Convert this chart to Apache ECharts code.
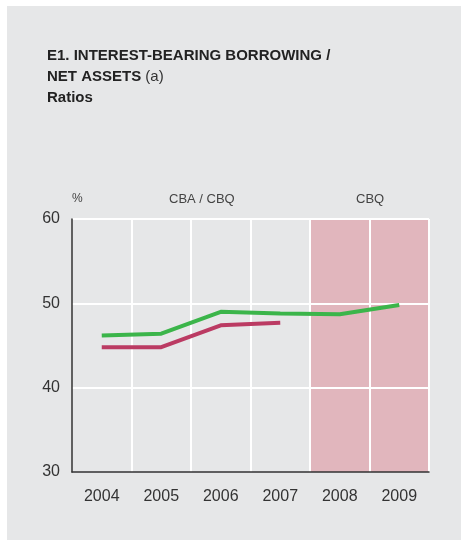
<!DOCTYPE html>
<html>
<head>
<meta charset="utf-8">
<script src="https://cdn.jsdelivr.net/npm/echarts@6/dist/echarts.min.js"></script>
<style>
    html, body { margin: 0; padding: 0; background: #ffffff; }
    #chart { width: 461px; height: 540px; }
</style>
</head>
<body>
<div id="chart"></div>
<script>
    // chart data
    const years = ['2004', '2005', '2006', '2007', '2008', '2009'];
    const cbqSeries = [46.2, 46.4, 49.0, 48.8, 48.7, 49.8];
    const cbaSeries = [44.8, 44.8, 47.4, 47.7, null, null];
    const yTicks = { min: 30, max: 60, step: 10 };
    const shadedBand = [4, 6]; // 2008 - 2009 band, in band units

    let chart = echarts.init(document.getElementById('chart'), null, { renderer: 'canvas' });

    const font = '"Liberation Sans", Arial, Helvetica, sans-serif';

    chart.setOption({
        animation: false,
        textStyle: { fontFamily: font },
        graphic: [
            {
                type: 'rect', z: -10, silent: true,
                shape: { x: 7, y: 6, width: 454, height: 534 },
                style: { fill: '#e6e7e8' }
            },
            {
                type: 'text', left: 72, top: 193,
                style: { text: '%', font: '12px ' + font, fill: '#444' }
            },
            {
                type: 'text', left: 169, top: 193,
                style: { text: 'CBA / CBQ', font: '13px ' + font, fill: '#444' }
            },
            {
                type: 'text', left: 356, top: 193,
                style: { text: 'CBQ', font: '13px ' + font, fill: '#444' }
            }
        ],
        title: {
            left: 47,
            top: 45,
            padding: 0,
            text: '{b|E1. INTEREST-BEARING BORROWING /}\n{b|NET ASSETS }{n|(a)}\n{b|Ratios}',
            textStyle: {
                rich: {
                    b: { fontFamily: font, fontSize: 15, fontWeight: 'bold', color: '#222', lineHeight: 21 },
                    n: { fontFamily: font, fontSize: 15, fontWeight: 'normal', color: '#333', lineHeight: 21 }
                }
            }
        },
        grid: {
            left: 72,
            right: 32,
            top: 219,
            bottom: 68,
            containLabel: false
        },
        xAxis: [
            {
                type: 'category',
                data: years,
                boundaryGap: true,
                z: 3,
                axisLine: { show: true, lineStyle: { color: '#333', width: 1.5 } },
                axisTick: { show: false },
                axisLabel: { color: '#333', fontSize: 16, margin: 17, fontFamily: font },
                splitLine: { show: true, showMinLine: false, lineStyle: { color: '#ffffff', width: 2 } }
            },
            {
                type: 'value',
                min: 0,
                max: 6,
                show: false
            }
        ],
        yAxis: {
            type: 'value',
            min: yTicks.min,
            max: yTicks.max,
            interval: yTicks.step,
            z: 4,
            axisLine: { show: true, lineStyle: { color: '#333', width: 1.5 } },
            axisTick: { show: false },
            axisLabel: { color: '#333', fontSize: 16, margin: 12, fontFamily: font },
            splitLine: { show: true, showMinLine: false, lineStyle: { color: '#ffffff', width: 2 } }
        },
        series: [
            {
                name: 'shade',
                type: 'line',
                xAxisIndex: 1,
                z: 1,
                data: [],
                silent: true,
                markArea: {
                    silent: true,
                    itemStyle: { color: '#e1b6bd' },
                    data: [[{ xAxis: shadedBand[0] }, { xAxis: shadedBand[1] }]]
                }
            },
            {
                name: 'CBQ',
                type: 'line',
                z: 6,
                data: cbqSeries,
                symbol: 'none',
                lineStyle: { color: '#3bb54a', width: 4 }
            },
            {
                name: 'CBA',
                type: 'line',
                z: 6,
                data: cbaSeries,
                symbol: 'none',
                lineStyle: { color: '#bb3b63', width: 4 }
            }
        ]
    });
</script>
</body>
</html>
